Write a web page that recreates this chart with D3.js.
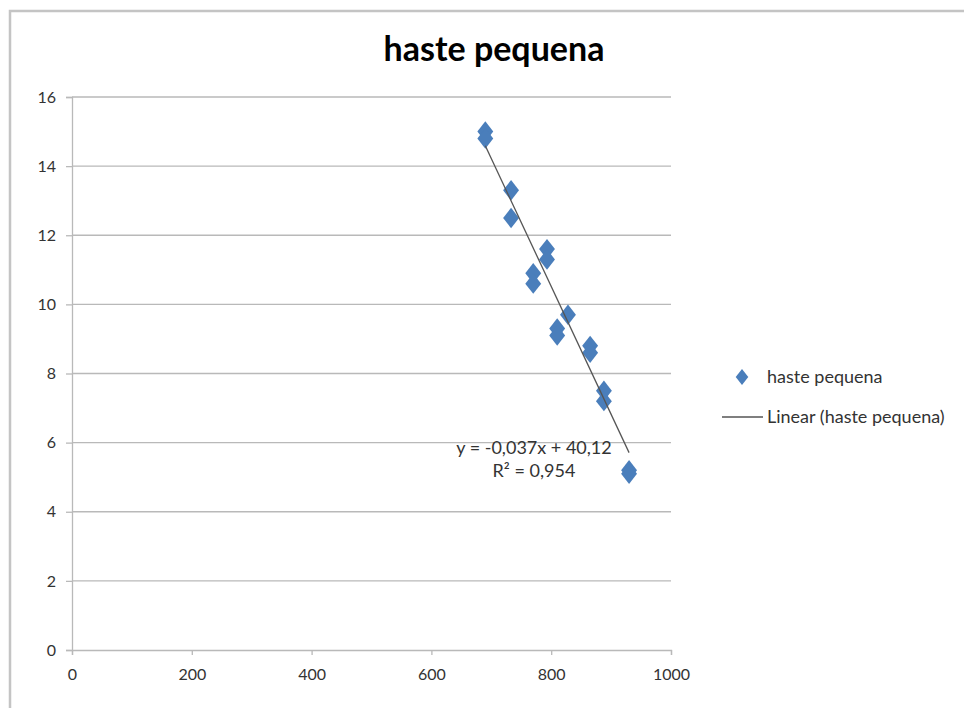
<!DOCTYPE html>
<html>
<head>
<meta charset="utf-8">
<script src="https://cdn.jsdelivr.net/npm/d3@7"></script>
<style>
  body { margin: 0; background: #fff; }
  svg text { font-family: Lato, "Open Sans", sans-serif; }
</style>
</head>
<body>
<svg width="964" height="708"></svg>
<script>
// measured values (x = haste, y)
var xValues = [690, 690, 733, 733, 793, 793, 770, 770, 828, 810, 810, 865, 865, 888, 888, 930, 930];
var yValues = [15.0, 14.8, 13.3, 12.5, 11.6, 11.3, 10.9, 10.6, 9.7, 9.3, 9.1, 8.8, 8.6, 7.5, 7.2, 5.2, 5.1];
var xTicks = [0, 200, 400, 600, 800, 1000];
var yTicks = [0, 2, 4, 6, 8, 10, 12, 14, 16];
var trendSlope = -0.037, trendIntercept = 40.12;
var trendLabel = ["y = -0,037x + 40,12", "R² = 0,954"];
var seriesName = "haste pequena";

var svg = d3.select("svg");

// outer chart frame (cut at right and bottom like the screenshot)
svg.append("path")
    .attr("d", "M10,720 L10,11 L980,11")
    .attr("fill", "none")
    .attr("stroke", "#c4c4c4")
    .attr("stroke-width", 2.5);

var x = d3.scaleLinear().domain([0, 1000]).range([72, 671]);
var y = d3.scaleLinear().domain([0, 16]).range([650, 97]);

// gridlines
svg.append("g")
    .selectAll("line")
    .data(yTicks.filter(function(d) { return d > 0; }))
    .enter().append("line")
    .attr("x1", x(0)).attr("x2", x(1000))
    .attr("y1", function(d) { return y(d); })
    .attr("y2", function(d) { return y(d); })
    .attr("stroke", "#b9b9b9")
    .attr("stroke-width", 1.3);

var xAxis = svg.append("g")
    .attr("transform", "translate(0," + y(0) + ")")
    .call(d3.axisBottom(x).tickValues(xTicks).tickFormat(d3.format("d")).tickSize(5).tickPadding(14));

var yAxis = svg.append("g")
    .attr("transform", "translate(" + x(0) + ",0)")
    .call(d3.axisLeft(y).tickValues(yTicks).tickSize(6).tickPadding(10));

[xAxis, yAxis].forEach(function(ax) {
    ax.select(".domain").attr("stroke", "#b9b9b9").attr("stroke-width", 1.3);
    ax.selectAll(".tick line").attr("stroke", "#b9b9b9").attr("stroke-width", 1.3);
    ax.selectAll(".tick text")
        .attr("fill", "#333")
        .style("font-size", "16px")
        .style("font-family", "Lato, 'Open Sans', sans-serif");
});

// title
svg.append("text")
    .attr("x", 494)
    .attr("y", 61)
    .attr("text-anchor", "middle")
    .style("font-size", "34px")
    .style("font-weight", "bold")
    .attr("fill", "#000")
    .text(seriesName);

var diamond = d3.symbol().type(d3.symbolDiamond).size(120);

// points
svg.append("g")
    .selectAll("path")
    .data(xValues)
    .enter().append("path")
    .attr("d", diamond)
    .attr("transform", function(d, i) {
        return "translate(" + x(d) + "," + y(yValues[i]) + ") scale(1.35,1)";
    })
    .attr("fill", "#4a7ebb");

// linear trendline over the data range
var xMin = d3.min(xValues), xMax = d3.max(xValues);
svg.append("line")
    .attr("x1", x(xMin)).attr("y1", y(trendSlope * xMin + trendIntercept))
    .attr("x2", x(xMax)).attr("y2", y(trendSlope * xMax + trendIntercept))
    .attr("stroke", "#555")
    .attr("stroke-width", 1.3);

svg.append("g")
    .selectAll("text")
    .data(trendLabel)
    .enter().append("text")
    .attr("x", 534)
    .attr("y", function(d, i) { return 454 + i * 23; })
    .attr("text-anchor", "middle")
    .style("font-size", "18px")
    .attr("fill", "#333")
    .text(function(d) { return d; });

// legend
var legend = svg.append("g");
legend.append("path")
    .attr("d", d3.symbol().type(d3.symbolDiamond).size(75))
    .attr("transform", "translate(742,377) scale(1.35,1)")
    .attr("fill", "#4a7ebb");
legend.append("text")
    .attr("x", 767).attr("y", 383)
    .style("font-size", "18px")
    .attr("fill", "#333")
    .text(seriesName);
legend.append("line")
    .attr("x1", 722).attr("x2", 763)
    .attr("y1", 417).attr("y2", 417)
    .attr("stroke", "#555")
    .attr("stroke-width", 1.3);
legend.append("text")
    .attr("x", 767).attr("y", 423)
    .style("font-size", "18px")
    .attr("fill", "#333")
    .text("Linear (" + seriesName + ")");
</script>
</body>
</html>
